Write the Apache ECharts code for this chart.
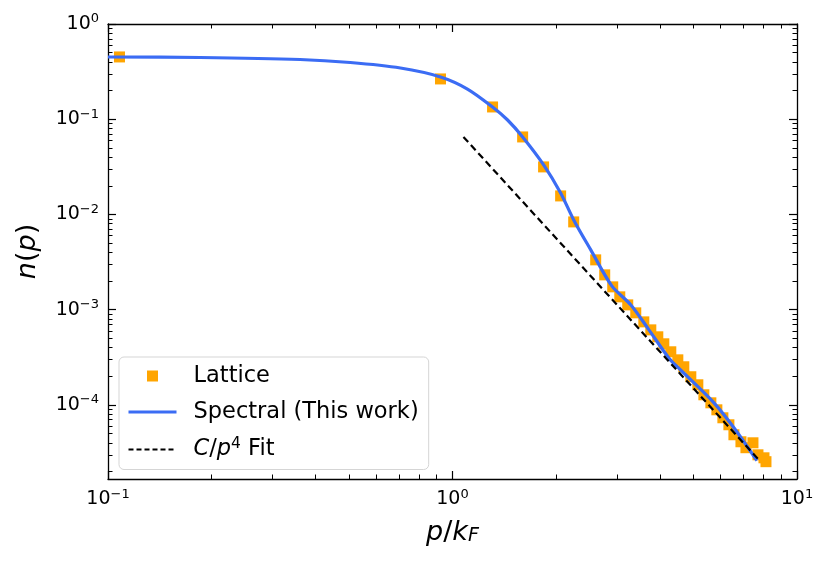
<!DOCTYPE html>
<html>
<head>
<meta charset="utf-8">
<script src="https://cdn.jsdelivr.net/npm/echarts@6/dist/echarts.min.js"></script>
<style>
  html, body { margin: 0; background: #fff; }
  #chart { width: 830px; height: 562px; }
</style>
</head>
<body>
<div id="chart"></div>
<script>
// lattice points (p/kF, n(p))
const latticeP = [0.108, 0.923, 1.307, 1.598, 1.838, 2.06, 2.248, 2.604, 2.766, 2.918, 3.059, 3.226, 3.404, 3.592, 3.764, 3.944, 4.106, 4.302, 4.509, 4.693, 4.918, 5.154, 5.366, 5.623, 5.853, 6.093, 6.343, 6.56, 6.875, 7.108, 7.45, 7.703, 8.019, 8.127]
const latticeN = [0.451, 0.265, 0.1346, 0.0652, 0.0316, 0.01567, 0.00836, 0.00334, 0.002324, 0.001739, 0.001366, 0.001125, 0.000928, 0.000746, 0.000615, 0.00052, 0.000439, 0.000362, 0.000298, 0.000252, 0.000198, 0.000163, 0.000128, 0.0001054, 8.9e-5, 7.34e-5, 6.2e-5, 4.87e-5, 4.11e-5, 3.56e-5, 4.01e-5, 3.0e-5, 2.79e-5, 2.54e-5]

// spectral curve
const spectralP = [0.1, 0.185, 0.361, 0.505, 0.706, 0.923, 1.105, 1.307, 1.445, 1.598, 1.839, 2.06, 2.248, 2.52, 2.9, 3.29, 3.7, 4.25, 4.6, 5.74, 6.6, 7.65]
const spectralN = [0.4505, 0.445, 0.424, 0.394, 0.345, 0.278, 0.2077, 0.1345, 0.0982, 0.0652, 0.0332, 0.01685, 0.00878, 0.00425, 0.00178, 0.001126, 0.00063, 0.00031, 0.000232, 0.0001054, 5.6e-5, 2.6e-5]

// C/p^4 fit (straight line on log-log)
const fitP = [1.076, 7.70]
const fitN = [0.0652, 2.726e-5]

// axes (log10 units)
const xRange = [-1, 1]
const yRange = [-4.777, 0]
const xMajor = [-1, 0, 1]
const yMajor = [-4, -3, -2, -1, 0]
const minorMult = [2, 3, 4, 5, 6, 7, 8, 9]

const FONT = 'DejaVu Sans'
const BLUE = '#3b6cf4'

function toLog (ps, ns) {
  return ps.map((p, i) => [Math.log10(p), Math.log10(ns[i])])
}

function minorTicks (range) {
  const out = []
  for (let d = Math.floor(range[0]); d < Math.ceil(range[1]); d++) {
    minorMult.forEach(k => {
      const v = d + Math.log10(k)
      if (v >= range[0] && v <= range[1]) out.push(v)
    })
  }
  return out
}

function powLabel (v) {
  const e = Math.round(v)
  return '{b|10}{s|' + (e < 0 ? '\u2212' : '') + Math.abs(e) + '}'
}

const labelRich = {
  b: { fontSize: 19, fontFamily: FONT, color: '#000' },
  s: { fontSize: 13, fontFamily: FONT, color: '#000', padding: [0, 0, 10, 0] }
}

const lineStyle = { color: '#000', width: 1.3 }

function axisPair (pos, range, major, withLabel, name) {
  const base = {
    type: 'value',
    position: pos,
    min: range[0],
    max: range[1],
    splitLine: { show: false }
  }
  const majorAxis = Object.assign({}, base, {
    axisLine: { show: true, onZero: false, lineStyle: lineStyle },
    axisTick: { show: true, inside: true, length: 8, lineStyle: { color: '#000', width: 1.2 }, customValues: major },
    axisLabel: withLabel
      ? { show: true, customValues: major, formatter: powLabel, rich: labelRich, margin: 9 }
      : { show: false }
  })
  if (name) Object.assign(majorAxis, name)
  const minorAxis = Object.assign({}, base, {
    axisLine: { show: false, onZero: false },
    axisTick: { show: true, inside: true, length: 4.5, lineStyle: { color: '#000', width: 1 }, customValues: minorTicks(range) },
    axisLabel: { show: false }
  })
  return [majorAxis, minorAxis]
}

const xName = {
  name: '{i|p}/{i|k}{sub|F}',
  nameLocation: 'middle',
  nameGap: 40,
  nameTextStyle: {
    rich: {
      i: { fontSize: 27, fontStyle: 'italic', fontFamily: FONT, color: '#000' },
      sub: { fontSize: 19, fontStyle: 'italic', fontFamily: FONT, color: '#000', padding: [8, 0, 0, 0] }
    },
    fontSize: 27, fontFamily: FONT, color: '#000'
  }
}
const yName = {
  name: '{i|n}{r|(}{i|p}{r|)}',
  nameLocation: 'middle',
  nameGap: 67,
  nameTextStyle: {
    rich: {
      i: { fontSize: 27, fontStyle: 'italic', fontFamily: FONT, color: '#000' },
      r: { fontSize: 27, fontFamily: FONT, color: '#000' }
    }
  }
}

const xAxes = axisPair('bottom', xRange, xMajor, true, xName)
  .concat(axisPair('top', xRange, xMajor, false))
const yAxes = axisPair('left', yRange, yMajor, true, yName)
  .concat(axisPair('right', yRange, yMajor, false))

// square centred in a 48x11 legend slot (tiny corner dots keep the box wide)
const squareIcon = 'path://M0,0h0.01v0.01h-0.01z M18.5,0h11v11h-11z M47.99,10.99h0.01v0.01h-0.01z'

const chart = echarts.init(document.getElementById('chart'))
const option = {
  animation: false,
  backgroundColor: '#fff',
  grid: { left: 108, right: 33, top: 24, bottom: 83 },
  xAxis: xAxes,
  yAxis: yAxes,
  legend: {
    orient: 'vertical',
    left: 119,
    top: 357,
    padding: [7, 10, 8, 8],
    itemWidth: 48,
    itemHeight: 11,
    itemGap: 12,
    backgroundColor: 'rgba(255,255,255,0.8)',
    borderColor: '#d5d5d5',
    borderWidth: 1,
    borderRadius: 5,
    data: [
      { name: 'Lattice', icon: squareIcon },
      { name: 'Spectral (This work)', itemStyle: { opacity: 0 }, lineStyle: { color: BLUE, width: 3 } },
      { name: 'fit', itemStyle: { opacity: 0 }, lineStyle: { color: '#000', width: 2, type: [5, 3] } }
    ],
    formatter: function (name) {
      return name === 'fit' ? '{i|C}/{i|p}{s|4} Fit' : name
    },
    textStyle: {
      fontSize: 22.5,
      fontFamily: FONT,
      color: '#000',
      lineHeight: 24,
      padding: [0, 0, 0, 12],
      rich: {
        i: { fontSize: 22.5, fontStyle: 'italic', fontFamily: FONT, color: '#000' },
        s: { fontSize: 15.5, fontFamily: FONT, color: '#000', padding: [0, 0, 11, 0] }
      }
    }
  },
  series: [
    {
      name: 'Lattice',
      type: 'scatter',
      symbol: 'rect',
      symbolSize: 11,
      itemStyle: { color: '#FFA500', opacity: 1 },
      data: toLog(latticeP, latticeN),
      z: 2
    },
    {
      name: 'Spectral (This work)',
      type: 'line',
      smooth: 0.3,
      symbol: 'none',
      showSymbol: false,
      lineStyle: { color: BLUE, width: 3.2 },
      itemStyle: { color: BLUE },
      data: toLog(spectralP, spectralN),
      z: 3
    },
    {
      name: 'fit',
      type: 'line',
      symbol: 'none',
      showSymbol: false,
      lineStyle: { color: '#000', width: 2.2, type: [7, 4] },
      itemStyle: { color: '#000' },
      data: toLog(fitP, fitN),
      z: 4
    }
  ]
}
chart.setOption(option)
</script>
</body>
</html>
